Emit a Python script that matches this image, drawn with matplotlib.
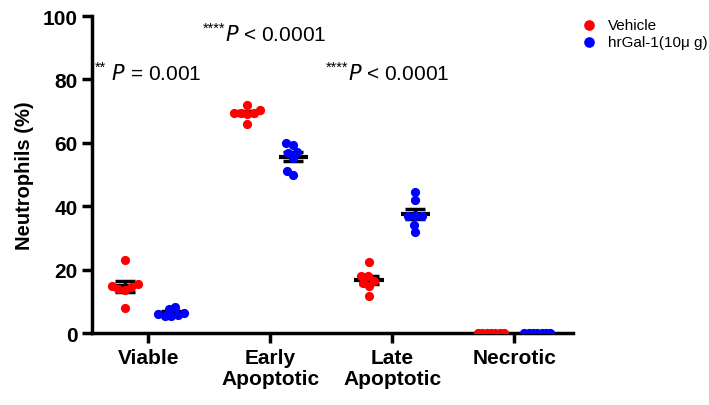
import numpy as np
import matplotlib.pyplot as plt

plt.rcParams['font.family'] = ['Liberation Sans', 'DejaVu Sans']

# ------------------------------
# Dados
categorias = ["Viable", "Early\nApoptotic", "Late\nApoptotic", "Necrotic"]
vehicle = [
    [23.0, 15.0, 14.0, 13.5, 14.5, 15.5, 8.0],
    [70.5, 69.5, 69.5, 69.5, 72.0, 69.0, 65.8],
    [22.4, 18.0, 18.0, 14.8, 15.8, 11.7, 16.5],
    [0, 0, 0, 0, 0, 0, 0],
]
hrgal = [
    [8.3, 7.5, 6.0, 5.5, 5.8, 6.5, 5.5],
    [59.9, 57.1, 59.3, 56.8, 55.2, 51.1, 49.8],
    [44.5, 42.0, 36.9, 36.9, 36.9, 34.1, 31.9],
    [0, 0, 0, 0, 0, 0, 0],
]
anotacoes = ["**", "****", "****"]
p_textos = [" P = 0.001", "P < 0.0001", "P < 0.0001"]

cor_vehicle = "#ff0000"
cor_hrgal = "#0000ff"

fig = plt.figure(figsize=(7.09, 4.06), dpi=100)
ax = fig.add_axes([0.13, 0.177, 0.678, 0.781])
ax.set_xlim(-0.46, 3.48)
ax.set_ylim(0, 100)

# escala px por unidade (para o "swarm")
px_x = 122.0
px_y = 3.17
diam = 7.0


def swarm(vals, max_half=13.0):
    # posiciona pontos sem sobreposicao, perto do centro
    ordem = np.argsort(vals)
    pos = np.zeros(len(vals))
    colocados = []
    for i in ordem:
        yv = vals[i] * px_y
        melhor = None
        for cand in sorted(np.arange(-40, 40.5, 0.5), key=abs):
            ok = True
            for (xc, yc) in colocados:
                if (cand - xc) ** 2 + (yv - yc) ** 2 < diam ** 2:
                    ok = False
                    break
            if ok:
                melhor = cand
                break
        pos[i] = melhor
        colocados.append((melhor, yv))
    m = np.abs(pos).max()
    if m > max_half:
        pos = pos * max_half / m
    return pos / px_x


def desenha(xc, vals, cor):
    vals = np.array(vals, dtype=float)
    media = vals.mean()
    sem = vals.std(ddof=1) / np.sqrt(len(vals))
    ax.plot([xc - 0.12, xc + 0.12], [media, media], color="black", lw=3, zorder=2, solid_capstyle="butt")
    ax.errorbar(xc, media, yerr=sem, fmt="none", ecolor="black", elinewidth=2.5,
                capsize=7, capthick=2.5, zorder=2)
    ax.scatter(xc + swarm(vals), vals, s=44, color=cor, zorder=3, linewidths=0)


off = 0.19
for i in range(len(categorias)):
    desenha(i - off, vehicle[i], cor_vehicle)
    desenha(i + off, hrgal[i], cor_hrgal)

# legenda
h1 = ax.scatter([], [], s=44, color=cor_vehicle, label="Vehicle")
h2 = ax.scatter([], [], s=44, color=cor_hrgal, label="hrGal-1(10\u03bc g)")
fig.legend(handles=[h1, h2], loc="upper left", bbox_to_anchor=(0.815, 0.96), frameon=False,
           fontsize=11, handlelength=1.0, handletextpad=0.8, labelspacing=0.2,
           borderaxespad=0.0, borderpad=0.2)

# eixos
for lado in ["top", "right"]:
    ax.spines[lado].set_visible(False)
for lado in ["left", "bottom"]:
    ax.spines[lado].set_linewidth(2.5)
ax.set_xticks(range(len(categorias)))
ax.set_xticklabels(categorias, fontsize=15, fontweight="bold", linespacing=1.15)
ax.set_yticks([0, 20, 40, 60, 80, 100])
ax.tick_params(axis="both", width=2.5, length=7, labelsize=15)
for t in ax.get_yticklabels():
    t.set_fontweight("bold")
ax.set_ylabel("Neutrophils (%)", fontsize=14.5, fontweight="bold", labelpad=6)

# anotacoes de significancia
pos_txt = [(-0.44, 80.0), (0.445, 92.5), (1.455, 80.0)]
for (x, y), est, p in zip(pos_txt, anotacoes, p_textos):
    t = ax.text(x, y + 2.6, est, fontsize=10.5, va="baseline", ha="left")
    fig.canvas.draw()
    bb = t.get_window_extent()
    x2 = ax.transData.inverted().transform((bb.x1, 0))[0]
    partes = p.split("P")
    ax.text(x2, y, partes[0] + "$\\it{P}$" + partes[1], fontsize=15, va="baseline", ha="left")

fig.savefig("out.png", dpi=100)
